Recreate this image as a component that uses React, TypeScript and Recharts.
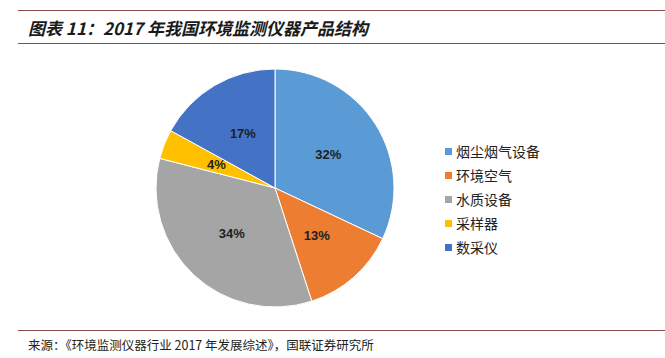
import { PieChart, Pie, Cell, Legend } from 'recharts';

const categories = ['烟尘烟气设备', '环境空气', '水质设备', '采样器', '数采仪'];
const shares = [32, 13, 34, 4, 17];
const colors = ['#5B9BD5', '#ED7D31', '#A5A5A5', '#FFC000', '#4472C4'];

const data = categories.map((name, i) => ({ name, value: shares[i] }));

const RADIAN = Math.PI / 180;

const renderLabel = (props: any) => {
  const { cx, cy, midAngle, outerRadius, value } = props;
  const r = outerRadius * 0.53;
  const x = cx + r * Math.cos(-midAngle * RADIAN);
  const y = cy + r * Math.sin(-midAngle * RADIAN);
  return (
    <text
      x={x}
      y={y}
      fill="#1f1f1f"
      textAnchor="middle"
      dominantBaseline="central"
      fontSize={13}
      fontWeight="bold"
      fontFamily="'Liberation Sans', Arial, sans-serif"
    >
      {`${value}%`}
    </text>
  );
};

const LegendBox = () => (
  <div style={{ fontFamily: "'Noto Sans CJK SC', sans-serif", fontSize: 14, color: '#222' }}>
    {categories.map((name, i) => (
      <div key={name} style={{ display: 'flex', alignItems: 'center', height: 24 }}>
        <span style={{ width: 7, height: 7, background: colors[i], marginRight: 4 }} />
        <span>{name}</span>
      </div>
    ))}
  </div>
);

const lineColor = '#8c4a4a';

const App = () => (
  <div style={{ position: 'absolute', left: 0, top: 0, width: 665, height: 358, background: '#fff', overflow: 'hidden' }}>
    <div style={{ position: 'absolute', left: 18, right: 0, top: 10, height: 1, background: lineColor }} />
    <div
      style={{
        position: 'absolute',
        left: 28,
        top: 15,
        fontFamily: "'Noto Sans CJK SC', sans-serif",
        fontSize: 17,
        fontWeight: 'bold',
        fontStyle: 'italic',
        color: '#1a1a1a',
        whiteSpace: 'nowrap'
      }}
    >
      图表 11：2017 年我国环境监测仪器产品结构
    </div>
    <div style={{ position: 'absolute', left: 18, right: 0, top: 43, height: 1, background: lineColor }} />

    <div style={{ position: 'absolute', left: 0, top: 0 }}>
      <PieChart width={665} height={358} margin={{ top: 0, right: 0, bottom: 0, left: 0 }}>
        <Pie
          data={data}
          dataKey="value"
          nameKey="name"
          cx={275}
          cy={188}
          outerRadius={119}
          startAngle={90}
          endAngle={-270}
          stroke="#ffffff"
          strokeWidth={1}
          label={renderLabel}
          labelLine={false}
          isAnimationActive={false}
        >
          {data.map((entry, index) => (
            <Cell key={`cell-${index}`} fill={colors[index]} />
          ))}
        </Pie>
        <Legend
          content={() => <LegendBox />}
          wrapperStyle={{ left: 445, top: 139, width: 160 }}
        />
      </PieChart>
    </div>

    <div style={{ position: 'absolute', left: 18, right: 0, top: 330, height: 1, background: lineColor }} />
    <div
      style={{
        position: 'absolute',
        left: 28,
        top: 335,
        fontFamily: "'Noto Sans CJK SC', sans-serif",
        fontSize: 12.5,
        color: '#222',
        whiteSpace: 'nowrap'
      }}
    >
      来源：《环境监测仪器行业 2017 年发展综述》，国联证券研究所
    </div>
  </div>
);

export default App;
